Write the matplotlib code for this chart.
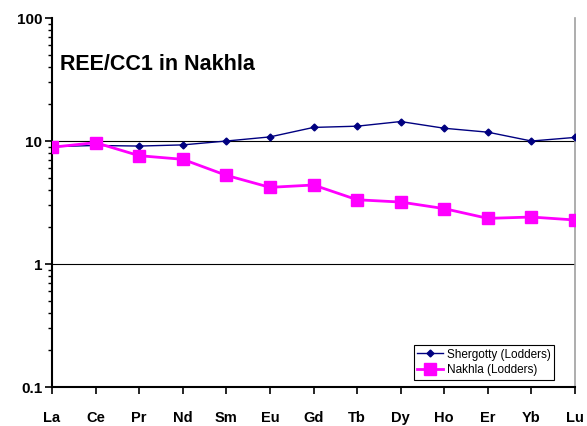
import matplotlib.pyplot as plt
from matplotlib.ticker import LogLocator, NullFormatter

plt.rcParams['font.family'] = ['Liberation Sans', 'DejaVu Sans']

elements = ["La", "Ce", "Pr", "Nd", "Sm", "Eu", "Gd", "Tb", "Dy", "Ho", "Er", "Yb", "Lu"]
shergotty = [9.0, 9.2, 9.1, 9.3, 10.0, 10.8, 12.9, 13.2, 14.4, 12.7, 11.8, 10.0, 10.7]
nakhla = [8.9, 9.7, 7.6, 7.1, 5.26, 4.2, 4.39, 3.33, 3.19, 2.82, 2.35, 2.41, 2.28]
ytick_vals = [0.1, 1, 10, 100]
ytick_labels = ["0.1", "1", "10", "100"]

fig = plt.figure(figsize=(5.87, 4.26), dpi=100)
ax = fig.add_axes([0.0886, 0.0915, 0.891, 0.8662])

x = list(range(len(elements)))

# gridlines only at 1 and 10
for g in [1, 10]:
    ax.axhline(g, color='black', linewidth=0.8, zorder=1)

ax.plot(x, shergotty, color='#000080', linewidth=1, marker='D', markersize=3.5,
        label='Shergotty (Lodders)', zorder=3)
ax.plot(x, nakhla, color='#FF00FF', linewidth=2, marker='s', markersize=8,
        label='Nakhla (Lodders)', zorder=4)

ax.set_yscale('log')
ax.set_ylim(0.1, 100)
ax.set_xlim(0, len(elements) - 1)

ax.set_yticks(ytick_vals)
ax.set_yticklabels(ytick_labels, fontsize=11, fontweight='bold')
ax.yaxis.set_minor_locator(LogLocator(base=10, subs=range(2, 10)))
ax.yaxis.set_minor_formatter(NullFormatter())

ax.set_xticks(x)
ax.set_xticklabels(elements, fontsize=10.5, fontweight='bold')

ax.tick_params(axis='y', which='major', direction='out', length=5, width=1.2, pad=2)
ax.tick_params(axis='y', which='minor', direction='out', length=3, width=1.0)
ax.tick_params(axis='x', direction='out', length=5, width=1.2, pad=12)

ax.spines['top'].set_visible(False)
ax.spines['right'].set_color('#A0A0A0')
ax.spines['right'].set_linewidth(1.2)
ax.spines['left'].set_linewidth(1.5)
ax.spines['bottom'].set_linewidth(1.5)

ax.text(0.016, 0.875, "REE/CC1 in Nakhla", transform=ax.transAxes,
        fontsize=15.5, fontweight='bold', va='center', ha='left')

leg = ax.legend(loc='lower right', bbox_to_anchor=(0.96, 0.02), fontsize=8.5,
                frameon=True, fancybox=False, edgecolor='black', framealpha=1,
                handlelength=2.2, handletextpad=0.3, borderpad=0.3,
                labelspacing=0.3, borderaxespad=0)
leg.get_frame().set_linewidth(0.8)

fig.savefig("out.png", dpi=100)
